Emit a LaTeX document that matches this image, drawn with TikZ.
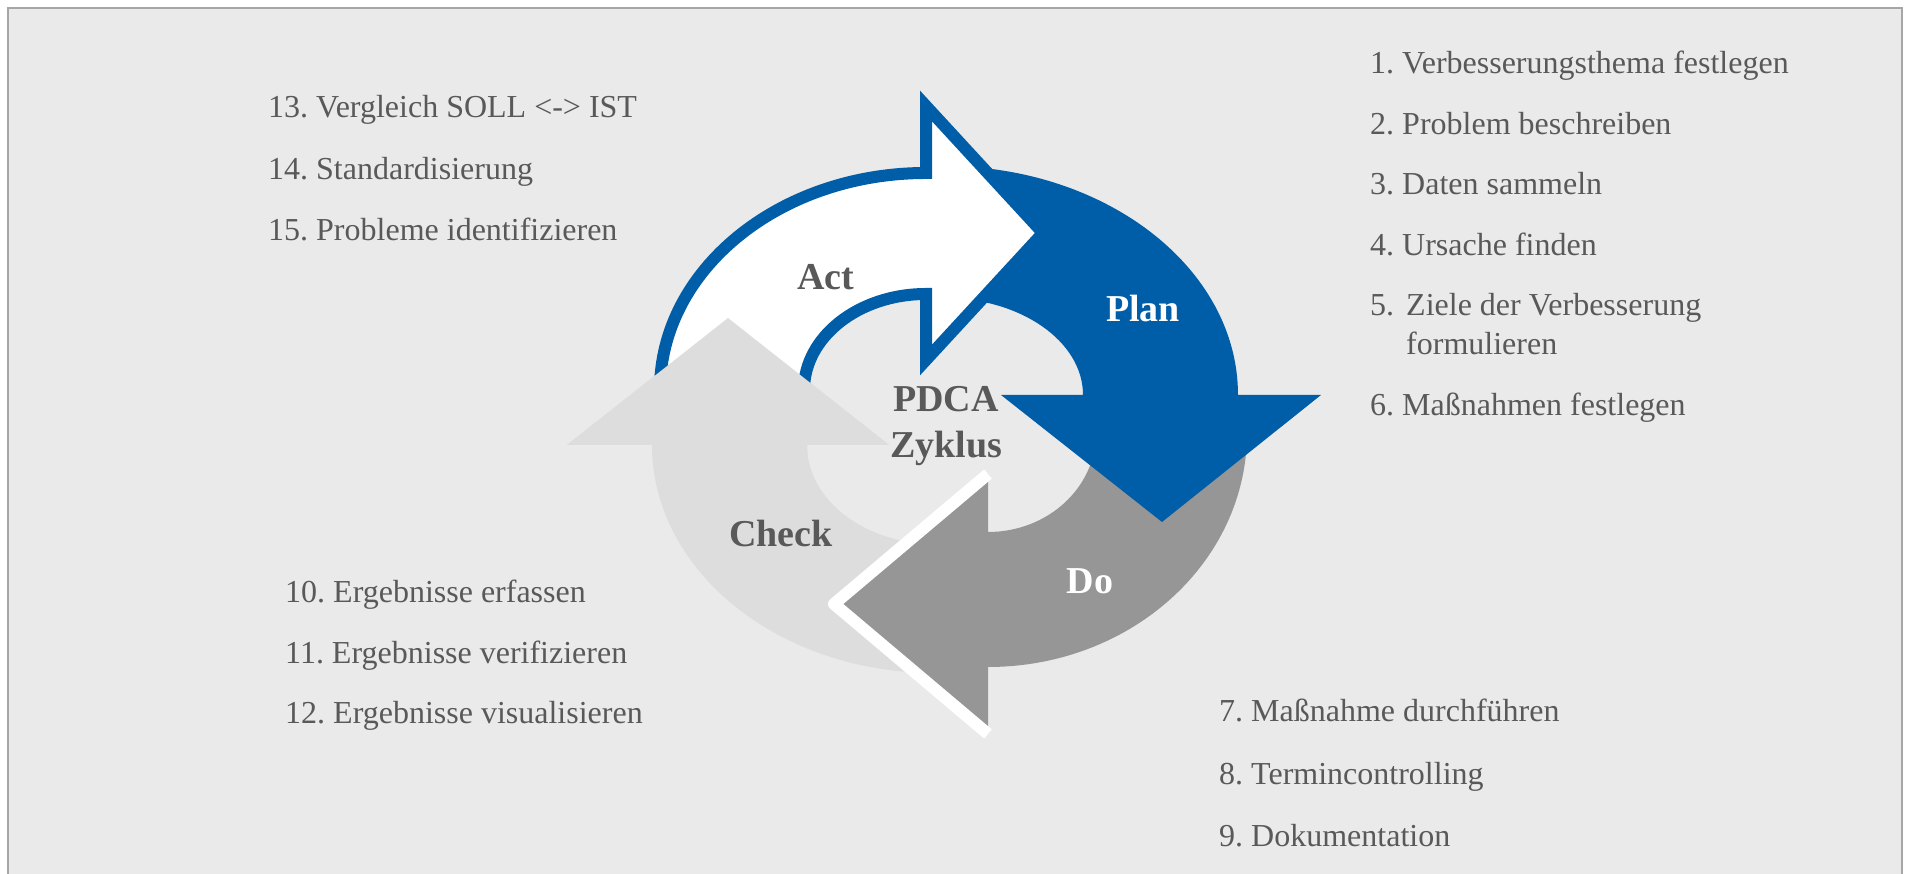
\documentclass[tikz,border=0pt]{standalone}
\usepackage{fontspec}
\setmainfont{Liberation Serif}
\usepackage{tikz}
\usetikzlibrary{positioning}
\frenchspacing

\definecolor{planblue}{RGB}{0,94,168}
\definecolor{dogray}{RGB}{150,150,150}
\definecolor{checkgray}{RGB}{221,221,221}
\definecolor{panelgray}{RGB}{234,234,234}
\definecolor{framegray}{RGB}{166,166,166}
\definecolor{txtgray}{RGB}{89,89,89}

\begin{document}
\begin{tikzpicture}[
        x=1pt, y=1pt,
        item/.style={inner sep=0pt, text height=24pt, text depth=8pt, text=txtgray, font=\fontsize{32}{38}\selectfont},
        phase/.style={inner sep=0pt, align=center, font=\fontsize{38}{46}\selectfont\bfseries},
        actarrow/.style={fill=white, draw=planblue, line width=12pt},
        planarrow/.style={fill=planblue},
        doarrow/.style={fill=dogray},
        checkarrow/.style={fill=checkgray}
    ]
        \useasboundingbox (0,0) rectangle (1909,874);
        \clip (0,0) rectangle (1909,874);

        % Panel
        \fill[white] (0,0) rectangle (1909,874);
        \draw[framegray, line width=2.5pt, fill=panelgray] (8,-20) rectangle (1902,866);

        % Cycle arrows, each tail hidden under the next head
        \fill[checkarrow] (935,201) arc[start angle=270, end angle=180, x radius=283, y radius=228]
            -- (567,429) -- (728,556) -- (889,429) -- (807,429)
            arc[start angle=180, end angle=270, x radius=128, y radius=99] -- cycle;
        \fill[doarrow] (1247,441) arc[start angle=0, end angle=-90, x radius=259, y radius=234]
            -- (988,140) -- (834,270) -- (988,400) -- (988,342)
            arc[start angle=-90, end angle=0, x radius=108, y radius=99] -- cycle;
        \draw[white, line width=12pt, line join=round] (988,400) -- (834,270) -- (988,140);
        \fill[planarrow] (944,708) arc[start angle=90, end angle=0, x radius=294, y radius=229]
            -- (1321,479) -- (1162,352) -- (1001,479) -- (1083,479)
            arc[start angle=0, end angle=90, x radius=139, y radius=97] -- cycle;
        \draw[actarrow] (660,484) arc[start angle=180, end angle=90, x radius=266, y radius=217]
            -- (926,768) -- (1043,641) -- (926,514) -- (926,580)
            arc[start angle=90, end angle=180, x radius=122, y radius=96] -- cycle;

        % Check head over the Act tail
        \begin{scope}
            \clip (540,419) rectangle (900,580);
            \fill[checkarrow] (935,201) arc[start angle=270, end angle=180, x radius=283, y radius=228]
                -- (567,429) -- (728,556) -- (889,429) -- (807,429)
                arc[start angle=180, end angle=270, x radius=128, y radius=99] -- cycle;
        \end{scope}

        % Phase labels
        \node[phase, text=txtgray, anchor=base] (act) at (826,584) {Act};
        \node[phase, text=white, anchor=base] (plan) at (1143,552) {Plan};
        \node[phase, text=white, anchor=base] (do) at (1090,280) {Do};
        \node[phase, text=txtgray, anchor=base] (check) at (781,327) {Check};
        \node[phase, text=txtgray] (pdca) at (946,448) {PDCA\\Zyklus};

        % Plan steps
        \node[item, anchor=base west] (p1) at (1370,800) {1. Verbesserungsthema festlegen};
        \node[item] (p2) [below=28pt of p1.south west, anchor=north west] {2. Problem beschreiben};
        \node[item] (p3) [below=28pt of p2.south west, anchor=north west] {3. Daten sammeln};
        \node[item] (p4) [below=28pt of p3.south west, anchor=north west] {4. Ursache finden};
        \node[item] (p5) [below=28pt of p4.south west, anchor=north west] {5.\hspace{12pt}Ziele der Verbesserung};
        \node[item] (p5b) [below=7pt of p5.south west, anchor=north west, xshift=36pt] {formulieren};
        \node[item] (p6) [below=28pt of p5b.south west, anchor=north west, xshift=-36pt] {6. Maßnahmen festlegen};

        % Do steps
        \node[item, anchor=base west] (d1) at (1219,152) {7. Maßnahme durchführen};
        \node[item] (d2) [below=30pt of d1.south west, anchor=north west] {8. Termincontrolling};
        \node[item] (d3) [below=30pt of d2.south west, anchor=north west] {9. Dokumentation};

        % Check steps
        \node[item, anchor=base west] (c1) at (285,271) {10. Ergebnisse erfassen};
        \node[item] (c2) [below=28pt of c1.south west, anchor=north west] {11. Ergebnisse verifizieren};
        \node[item] (c3) [below=28pt of c2.south west, anchor=north west] {12. Ergebnisse visualisieren};

        % Act steps
        \node[item, anchor=base west] (a1) at (268,756) {13. Vergleich SOLL <-> IST};
        \node[item] (a2) [below=29pt of a1.south west, anchor=north west] {14. Standardisierung};
        \node[item] (a3) [below=29pt of a2.south west, anchor=north west] {15. Probleme identifizieren};
\end{tikzpicture}
\end{document}
